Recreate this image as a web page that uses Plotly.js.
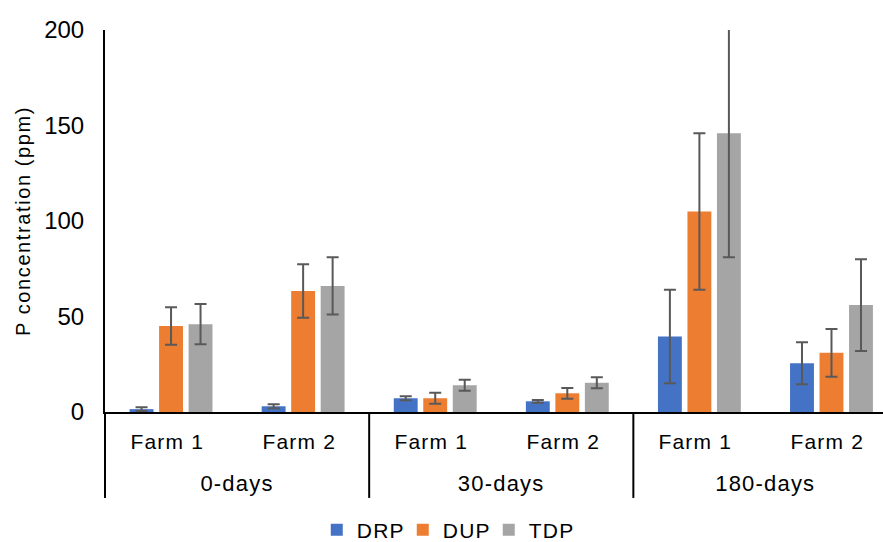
<!DOCTYPE html>
<html>
<head>
<meta charset="utf-8">
<script src="https://cdn.plot.ly/plotly-3.0.1.min.js"></script>
<style>
html,body{margin:0;padding:0;background:#fff;}
#chart{width:883px;height:542px;}
#chart .ytitle{letter-spacing:1.6px;}
#chart .annotation-text{letter-spacing:1.2px;}
#chart .legendtext{letter-spacing:1.2px;}
</style>
</head>
<body>
<div id="chart"></div>
<script>
const periods = ["0-days", "0-days", "30-days", "30-days", "180-days", "180-days"];
const farms = ["Farm 1", "Farm 2", "Farm 1", "Farm 2", "Farm 1", "Farm 2"];
const groupLabels = ["0-days", "30-days", "180-days"];

const drp = [1.5, 3, 7.2, 5.6, 39.5, 25.5];
const drpErr = [1, 1, 1, 0.7, 24.5, 11];
const dup = [45, 63.3, 7.2, 9.8, 105, 31];
const dupErr = [9.8, 14, 2.9, 2.8, 41, 12.5];
const tdp = [46, 66, 14, 15.3, 146, 56];
const tdpErr = [10.5, 15, 2.9, 2.9, 65, 24];

const seriesNames = ["DRP", "DUP", "TDP"];
const seriesColors = ["#4472C4", "#ED7D31", "#A5A5A5"];

const cats = periods.map((p, i) => p + " " + farms[i]);
const vals = [drp, dup, tdp];
const errs = [drpErr, dupErr, tdpErr];

const traces = vals.map((v, i) => ({
  type: "bar",
  name: seriesNames[i],
  x: cats,
  y: v,
  marker: { color: seriesColors[i] },
  error_y: { type: "data", array: errs[i], visible: true, color: "#595959", thickness: 2, width: 6 }
}));

const font = "Liberation Sans, Arial, sans-serif";
const annotations = [];
cats.forEach((c, i) => {
  annotations.push({
    xref: "x", yref: "paper", x: c, y: -0.078, yanchor: "middle", xanchor: "center", xshift: -4,
    text: farms[i], showarrow: false, font: { family: font, size: 21, color: "#000" }
  });
});
groupLabels.forEach((g) => {
  const idx = periods.map((p, i) => p === g ? i : -1).filter(i => i >= 0);
  const mid = (idx[0] + idx[idx.length - 1]) / 2;
  annotations.push({
    xref: "x", yref: "paper", x: mid, y: -0.188, yanchor: "middle", xanchor: "center",
    text: g, showarrow: false, font: { family: font, size: 22, color: "#000" }
  });
});

const shapes = [{ type: "line", xref: "paper", yref: "paper", x0: 0, x1: 0, y0: 0, y1: -0.225, line: { color: "#000", width: 2 } }];
for (let i = 1; i < periods.length; i++) {
  if (periods[i] !== periods[i - 1]) {
    shapes.push({ type: "line", xref: "x", yref: "paper", x0: i - 0.5, x1: i - 0.5, y0: 0, y1: -0.225, line: { color: "#000", width: 2 } });
  }
}

const layout = {
  width: 883, height: 542,
  margin: { l: 105, r: 0, t: 30, b: 130, autoexpand: false },
  paper_bgcolor: "#fff", plot_bgcolor: "#fff",
  barmode: "group", bargap: 0.33, bargroupgap: 0.19,
  font: { family: font, size: 21, color: "#000" },
  xaxis: {
    type: "category", range: [-0.5, 5.39],
    showline: true, linecolor: "#000", linewidth: 2,
    showgrid: false, ticks: "", showticklabels: false
  },
  yaxis: {
    range: [0, 200], tickvals: [0, 50, 100, 150, 200],
    showline: true, linecolor: "#000", linewidth: 2,
    showgrid: false, zeroline: false, ticks: "",
    tickfont: { family: font, size: 24, color: "#000" },
    ticklabelstandoff: 14,
    title: { text: "P concentration (ppm)", font: { family: font, size: 20, color: "#000" }, standoff: 8 }
  },
  annotations: annotations,
  shapes: shapes,
  legend: {
    orientation: "h", x: 0.438, xanchor: "center", y: -0.309, yanchor: "middle",
    font: { family: font, size: 21, color: "#000" }, itemwidth: 30, traceorder: "normal",
    entrywidth: 41, entrywidthmode: "pixels"
  },
  showlegend: true
};

Plotly.newPlot("chart", traces, layout, { displayModeBar: false, staticPlot: true });
</script>
</body>
</html>
